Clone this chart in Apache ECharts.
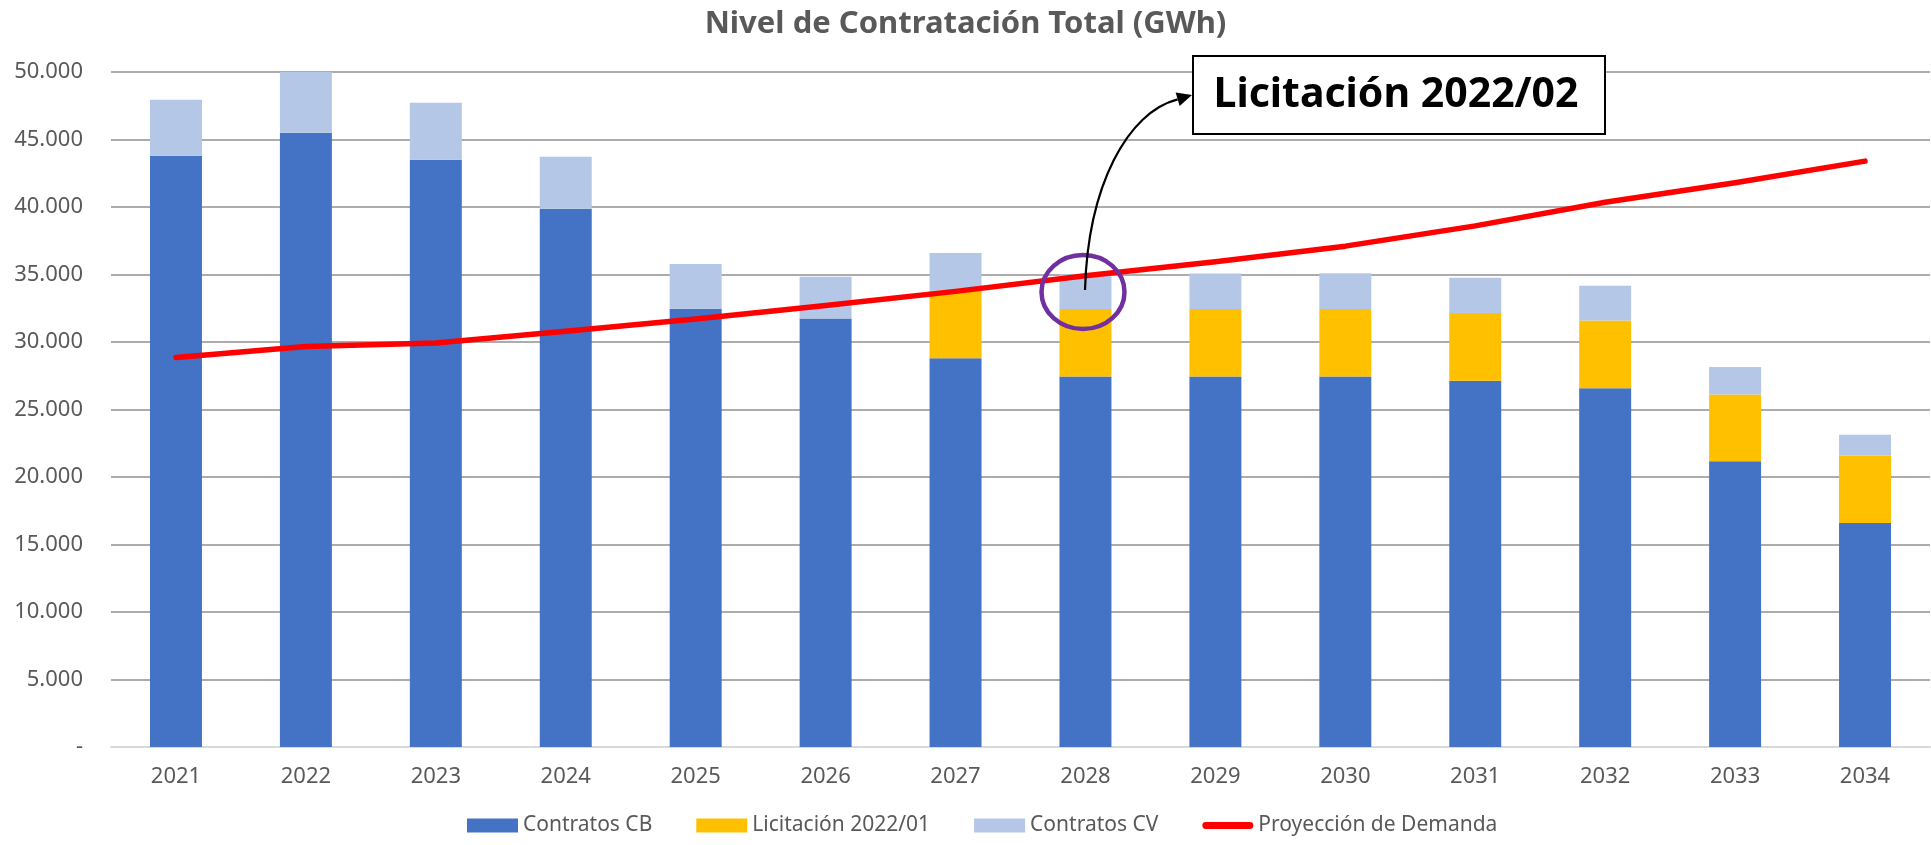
<!DOCTYPE html>
<html>
<head>
<meta charset="utf-8">
<script src="https://cdn.jsdelivr.net/npm/echarts@6/dist/echarts.min.js"></script>
<style>
html,body{margin:0;padding:0;background:#fff;}
#chart{width:1931px;height:845px;}
</style>
</head>
<body>
<div id="chart"></div>
<script>
const years = ['2021','2022','2023','2024','2025','2026','2027','2028','2029','2030','2031','2032','2033','2034'];
const contratosCB = [43800, 45500, 43500, 39870, 32470, 31750, 28790, 27450, 27450, 27450, 27130, 26580, 21160, 16590];
const licitacion202201 = [0, 0, 0, 0, 0, 0, 5010, 4990, 4990, 4990, 5020, 5010, 4960, 5010];
const contratosCV = [4150, 4500, 4230, 3860, 3310, 3090, 2790, 2600, 2640, 2660, 2610, 2580, 2030, 1530];
const proyeccionDemanda = [28860, 29670, 29930, 30800, 31700, 32700, 33750, 34900, 35950, 37100, 38600, 40350, 41800, 43400];
const yTicks = {min: 0, max: 50000, interval: 5000};
const titleText = 'Nivel de Contratación Total (GWh)';
const annotationText = 'Licitación 2022/02';

const FONT = '"Noto Sans", "Open Sans", sans-serif';
const chart = echarts.init(document.getElementById('chart'), null, {renderer: 'canvas'});

function fmt(v) {
  if (v === 0) return '-';
  return String(v).replace(/\B(?=(\d{3})+(?!\d))/g, '.');
}

// arrow geometry (annotation)
const tip = [1192, 95];
const ang = Math.atan2(-15, 50);
const ux = Math.cos(ang), uy = Math.sin(ang);
const headLen = 15, headHalf = 7;
const base = [tip[0] - headLen * ux, tip[1] - headLen * uy];
const nx = -uy, ny = ux;

const option = {
  backgroundColor: '#ffffff',
  animation: false,
  textStyle: {fontFamily: FONT},
  title: {
    text: titleText,
    left: 'center',
    top: 4,
    textStyle: {fontFamily: FONT, fontSize: 31, fontWeight: 'bold', color: '#595959'}
  },
  legend: {
    bottom: 4,
    left: 462,
    itemWidth: 51,
    itemHeight: 14,
    itemGap: 44,
    textStyle: {fontFamily: FONT, fontSize: 21, color: '#595959', padding: [0, 0, 0, 0]},
    data: [
      {name: 'Contratos CB', icon: 'rect'},
      {name: 'Licitación 2022/01', icon: 'rect'},
      {name: 'Contratos CV', icon: 'rect'},
      {name: 'Proyección de Demanda', icon: 'path://M3,0 L48,0 A3,3 0 0 1 48,7 L3,7 A3,3 0 0 1 3,0 Z'}
    ]
  },
  grid: {left: 111, right: 1, top: 72, bottom: 98, containLabel: false},
  xAxis: {
    type: 'category',
    data: years,
    axisTick: {show: false},
    axisLine: {show: true, lineStyle: {color: '#D9D9D9', width: 2}},
    axisLabel: {fontFamily: FONT, fontSize: 22, color: '#595959', margin: 19}
  },
  yAxis: {
    type: 'value',
    min: yTicks.min,
    max: yTicks.max,
    interval: yTicks.interval,
    axisLine: {show: false},
    axisTick: {show: false},
    splitLine: {show: true, showMinLine: false, lineStyle: {color: '#ADABAB', width: 2}},
    axisLabel: {fontFamily: FONT, fontSize: 22, color: '#595959', margin: 28, formatter: fmt}
  },
  series: [
    {name: 'Contratos CB', type: 'bar', stack: 'total', barWidth: '40%', itemStyle: {color: '#4472C4'}, data: contratosCB},
    {name: 'Licitación 2022/01', type: 'bar', stack: 'total', barWidth: '40%', itemStyle: {color: '#FFC000'}, data: licitacion202201},
    {name: 'Contratos CV', type: 'bar', stack: 'total', barWidth: '40%', itemStyle: {color: '#B4C7E7'}, data: contratosCV},
    {name: 'Proyección de Demanda', type: 'line', symbol: 'none', smooth: false, z: 5,
     itemStyle: {color: '#FF0000'},
     lineStyle: {color: '#FF0000', width: 5.5, cap: 'round', join: 'round'},
     data: proyeccionDemanda}
  ],
  graphic: [
    {
      type: 'ellipse', z: 100,
      shape: {cx: 1083, cy: 292, rx: 41.5, ry: 37},
      style: {fill: 'none', stroke: '#7030A0', lineWidth: 4.5}
    },
    {
      type: 'bezierCurve', z: 100,
      shape: {x1: 1085, y1: 290, cpx1: 1088, cpy1: 185, cpx2: 1128, cpy2: 112, x2: base[0], y2: base[1]},
      style: {fill: 'none', stroke: '#000000', lineWidth: 2.2}
    },
    {
      type: 'polygon', z: 100,
      shape: {points: [tip, [base[0] + headHalf * nx, base[1] + headHalf * ny], [base[0] - headHalf * nx, base[1] - headHalf * ny]]},
      style: {fill: '#000000'}
    },
    {
      type: 'rect', z: 100,
      shape: {x: 1193, y: 56, width: 412, height: 78},
      style: {fill: '#ffffff', stroke: '#000000', lineWidth: 2}
    },
    {
      type: 'text', z: 101,
      x: 1396, y: 95,
      style: {text: annotationText, fontFamily: FONT, fontSize: 41, fontWeight: 'bold', fill: '#000000',
              textAlign: 'center', textVerticalAlign: 'middle'}
    }
  ]
};
chart.setOption(option);
</script>
</body>
</html>
